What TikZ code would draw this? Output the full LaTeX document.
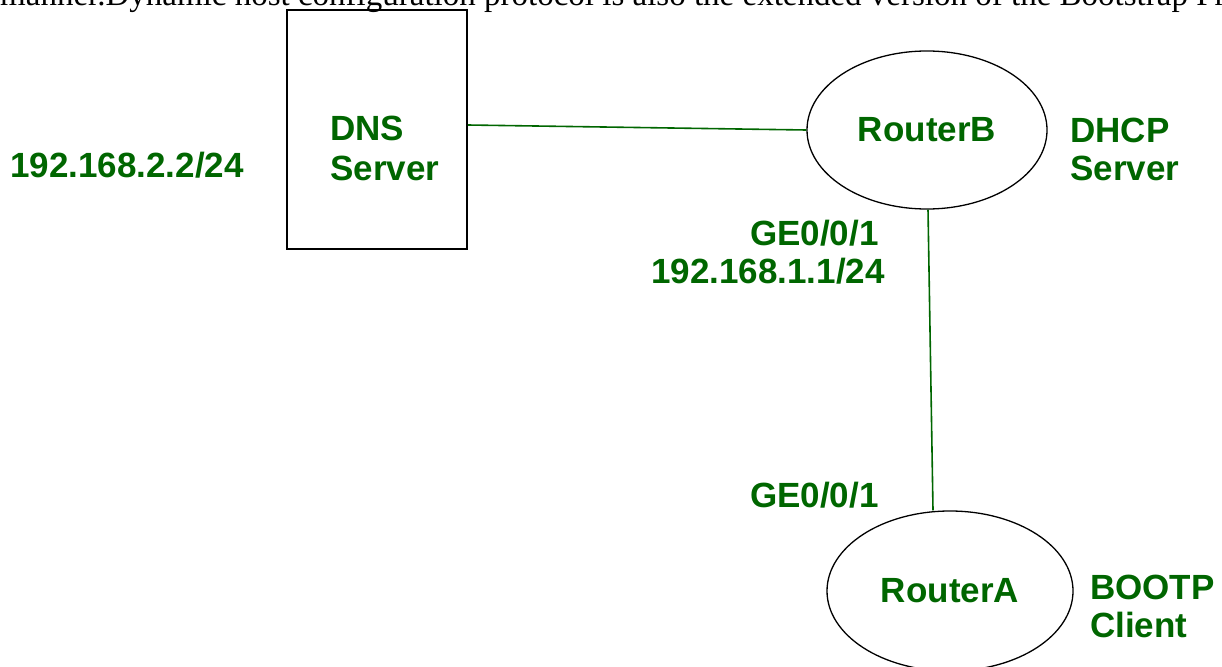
\documentclass[tikz,border=0pt]{standalone}
\usepackage{fontspec}
\setmainfont{Liberation Serif}
\setsansfont{Liberation Sans}
\usetikzlibrary{shapes.geometric}
\definecolor{lblgreen}{RGB}{0,102,0}
\begin{document}
\begin{tikzpicture}[x=1pt,y=-1pt,
  lbl/.style={font=\sffamily\bfseries\fontsize{35}{39}\selectfont, text=lblgreen, inner sep=0pt},
  router/.style={ellipse, draw=black, line width=1.3pt, inner sep=0pt, font=\sffamily\bfseries\fontsize{35}{39}\selectfont, text=lblgreen},
  serverbox/.style={draw=black, line width=1.6pt, inner sep=0pt},
  link/.style={draw=lblgreen, line width=1.6pt}]
\useasboundingbox (0,0) rectangle (1222,666);
\fill[white] (0,0) rectangle (1222,666);
\node[anchor=base west, inner sep=0pt, font=\fontsize{33}{39}\selectfont] (cap) at (0,6) {manner.Dynamic host configuration protocol is also the extended version of the Bootstrap Pro};
\node[serverbox, minimum width=180pt, minimum height=239pt] (dns) at (377,129.5) {};
\node[router, minimum width=240pt, minimum height=158pt] (rb) at (927,130) {RouterB};
\node[router, minimum width=246pt, minimum height=160pt] (ra) at (950,591) {RouterA};
\draw[link] ([yshift=4.5pt]dns.east) -- (rb.west);
\draw[link] ([xshift=1pt]rb.south) -- ([xshift=-17pt]ra.north);
\node[lbl, anchor=base west] (ipdns) at (10,177) {192.168.2.2/24};
\node[lbl, anchor=base west] (dns1) at (330,140) {DNS};
\node[lbl, anchor=base west] (dns2) at (330,180) {Server};
\node[lbl, anchor=base west] (dh1) at (1070,142) {DHCP};
\node[lbl, anchor=base west] (dh2) at (1070,180) {Server};
\node[lbl, anchor=base west] (ge1) at (750,245) {GE0/0/1};
\node[lbl, anchor=base west] (ip1) at (651,283) {192.168.1.1/24};
\node[lbl, anchor=base west] (ge2) at (750,507) {GE0/0/1};
\node[lbl, anchor=base west] (bt1) at (1090,599) {BOOTP};
\node[lbl, anchor=base west] (bt2) at (1090,637) {Client};
\end{tikzpicture}
\end{document}
